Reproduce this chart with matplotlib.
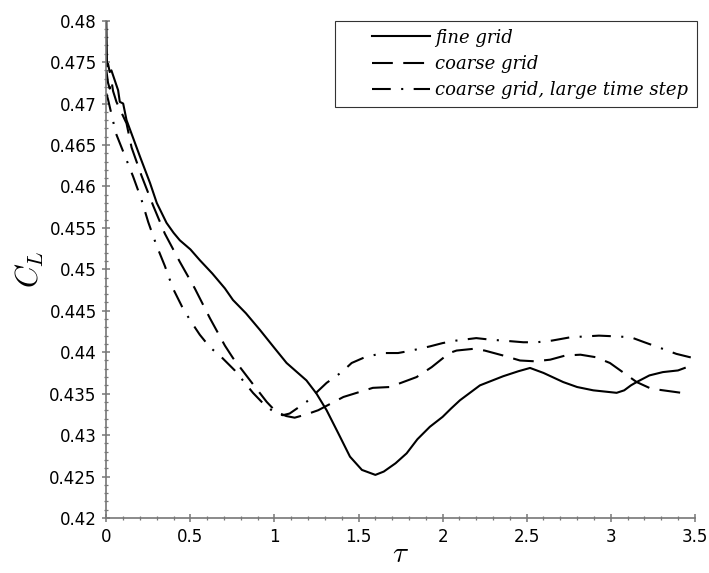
import numpy as np
import matplotlib
matplotlib.use("Agg")
import matplotlib.pyplot as plt
from matplotlib.ticker import MultipleLocator
from matplotlib.legend_handler import HandlerLine2D
from matplotlib.lines import Line2D

# fine grid
tau_fine = [0.0, 0.004, 0.01, 0.02, 0.03, 0.05, 0.07, 0.08, 0.1, 0.12, 0.2, 0.26,
            0.3, 0.358, 0.4, 0.437, 0.5, 0.556, 0.63, 0.705, 0.753, 0.83, 0.913,
            1.0, 1.072, 1.19, 1.25, 1.31, 1.38, 1.449, 1.52, 1.6, 1.65, 1.72,
            1.786, 1.85, 1.924, 2.0, 2.05, 2.103, 2.222, 2.36, 2.45, 2.52, 2.6,
            2.717, 2.8, 2.896, 3.035, 3.08, 3.12, 3.154, 3.23, 3.31, 3.4, 3.44]
cl_fine = [0.4798, 0.4745, 0.4748, 0.4738, 0.4740, 0.4728, 0.4716, 0.4702, 0.4700,
           0.4680, 0.4636, 0.4604, 0.4580, 0.4556, 0.4544, 0.4535, 0.4524, 0.4511,
           0.4495, 0.4477, 0.4463, 0.4447, 0.4427, 0.4405, 0.4387, 0.4366, 0.4350,
           0.4330, 0.4302, 0.4274, 0.4258, 0.4252, 0.4256, 0.4266, 0.4278, 0.4295,
           0.4310, 0.4322, 0.4332, 0.4342, 0.4360, 0.4371, 0.4377, 0.4381, 0.4375,
           0.4364, 0.4358, 0.4354, 0.4351, 0.4354, 0.4360, 0.4364, 0.4372, 0.4376,
           0.4378, 0.4381]

# coarse grid
tau_coarse = [0.0, 0.01, 0.02, 0.03, 0.04, 0.06, 0.12, 0.15, 0.209, 0.278, 0.348,
              0.437, 0.526, 0.616, 0.705, 0.753, 0.866, 0.954, 1.01, 1.07, 1.12,
              1.19, 1.26, 1.41, 1.585, 1.686, 1.845, 1.935, 2.04, 2.083, 2.18,
              2.25, 2.36, 2.46, 2.55, 2.64, 2.73, 2.82, 2.91, 2.995, 3.154, 3.24,
              3.42]
cl_coarse = [0.4740, 0.4725, 0.4718, 0.4728, 0.4715, 0.4702, 0.4676, 0.4647, 0.4613,
             0.4577, 0.4543, 0.4509, 0.4477, 0.4441, 0.4408, 0.4393, 0.4363, 0.4340,
             0.4328, 0.4323, 0.4321, 0.4325, 0.4330, 0.4346, 0.4357, 0.4358, 0.4370,
             0.4382, 0.4399, 0.4402, 0.4404, 0.4402, 0.4396, 0.4390, 0.4389, 0.4391,
             0.4396, 0.4397, 0.4394, 0.4387, 0.4364, 0.4356, 0.4351]

# coarse grid, large time step
tau_large = [0.0, 0.01, 0.057, 0.159, 0.209, 0.249, 0.298, 0.348, 0.396, 0.45, 0.5,
             0.556, 0.616, 0.685, 0.764, 0.812, 0.872, 0.943, 1.01, 1.05, 1.09,
             1.19, 1.31, 1.40, 1.459, 1.538, 1.645, 1.735, 1.815, 1.924, 2.0, 2.08,
             2.2, 2.29, 2.36, 2.48, 2.56, 2.65, 2.76, 2.846, 2.93, 3.04, 3.12, 3.2,
             3.31, 3.39, 3.47, 3.5]
cl_large = [0.4712, 0.4705, 0.4664, 0.4612, 0.4584, 0.4557, 0.4529, 0.4504, 0.4477,
            0.4455, 0.4438, 0.4421, 0.4406, 0.4394, 0.4378, 0.4366, 0.4351, 0.4336,
            0.4326, 0.4324, 0.4326, 0.4340, 0.4363, 0.4376, 0.4387, 0.4394, 0.4399,
            0.4399, 0.4402, 0.4407, 0.4411, 0.4414, 0.4417, 0.4415, 0.4414, 0.4412,
            0.4412, 0.4414, 0.4418, 0.4419, 0.4420, 0.4419, 0.4418, 0.4412, 0.4404,
            0.4398, 0.4394, 0.4393]

labels = ["fine grid", "coarse grid", "coarse grid, large time step"]

plt.rcParams["mathtext.fontset"] = "cm"

fig = plt.figure(figsize=(7.09, 5.73), dpi=100)
ax = fig.add_axes([0.150, 0.096, 0.830, 0.868])

lw = 1.5
ax.plot(tau_fine, cl_fine, color="black", lw=lw, label=labels[0])
ax.plot(tau_coarse, cl_coarse, color="black", lw=lw, dashes=(10, 5), label=labels[1])
ax.plot(tau_large, cl_large, color="black", lw=lw, dashes=(9, 5, 1, 5), label=labels[2])

ax.set_xlim(0, 3.5)
ax.set_ylim(0.42, 0.48)

# only left and bottom axes, grey, ticks crossing the axis line
for s in ["top", "right"]:
    ax.spines[s].set_visible(False)
for s in ["left", "bottom"]:
    ax.spines[s].set_color("#777777")
    ax.spines[s].set_linewidth(1.2)

ax.xaxis.set_major_locator(MultipleLocator(0.5))
ax.xaxis.set_minor_locator(MultipleLocator(0.1))
ax.yaxis.set_major_locator(MultipleLocator(0.005))
ax.yaxis.set_minor_locator(MultipleLocator(0.001))
ax.xaxis.set_major_formatter(plt.FuncFormatter(lambda v, p: f"{v:g}"))
ax.yaxis.set_major_formatter(plt.FuncFormatter(lambda v, p: f"{round(v, 3):g}"))

ax.tick_params(which="major", direction="inout", length=6, width=1.1,
               color="#777777", labelsize=12, pad=4)
ax.tick_params(which="minor", direction="inout", length=3.5, width=0.9,
               color="#777777")

ax.set_xlabel(r"$\tau$", fontsize=21, labelpad=-4)
ax.set_ylabel(r"$C_L$", fontsize=22, labelpad=2)

# handles start a bit inside the frame, like the original
leg = ax.legend(loc="upper right", bbox_to_anchor=(1.003, 1.0),
                prop={"family": "DejaVu Serif", "style": "italic", "size": 13},
                frameon=True, fancybox=False, handlelength=4.8,
                borderpad=0.45, labelspacing=0.45, handletextpad=0.3,
                borderaxespad=0.0,
                handler_map={Line2D: HandlerLine2D(xpad=1.6)})
leg.get_frame().set_edgecolor("black")
leg.get_frame().set_linewidth(0.8)

fig.savefig("out.png", dpi=100)
